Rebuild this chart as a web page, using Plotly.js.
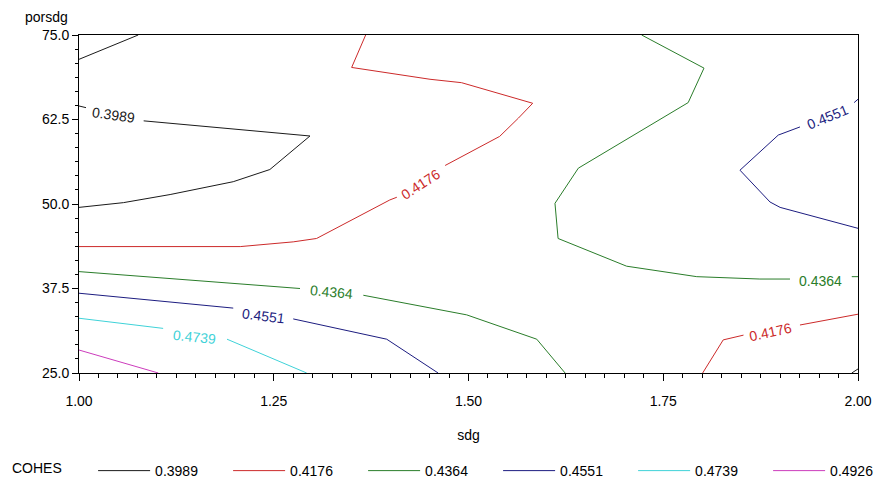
<!DOCTYPE html>
<html>
<head>
<meta charset="utf-8">
<script src="https://cdn.plot.ly/plotly-3.0.1.min.js"></script>
<style>html,body{margin:0;padding:0;background:#fff;}#chart{width:882px;height:481px;}</style>
</head>
<body>
<div id="chart"></div>
<script>
// Contour levels (COHES)
const levels = ['0.3989', '0.4176', '0.4364', '0.4551', '0.4739', '0.4926'];

// Contour paths (null = break in the line)
const x3989 = [1.0, 1.076, null, 1.0, 1.009, null, 1.083, 1.2965, 1.245, 1.198, 1.117, 1.057, 1.0, null, 1.992, 2.0];
const y3989 = [71.4, 75, null, 64.5, 64.25, null, 62.3, 60.06, 55.1, 53.3, 51.4, 50.2, 49.5, null, 25, 25.6];

const x4176 = [1.368, 1.350, 1.4506, 1.491, 1.5824, 1.564, 1.540, 1.470, null, 1.408, 1.399, 1.305, 1.275, 1.207, 1.0, null, 1.8006, 1.827, 1.853, null, 1.9255, 2.0];
const y4176 = [75, 70.2, 68.45, 67.95, 64.9, 62.7, 60.0, 55.7, null, 51.0, 50.6, 44.9, 44.4, 43.7, 43.7, null, 25, 29.9, 30.6, null, 32.1, 33.7];

const x4364 = [1.7223, 1.8023, 1.782, 1.641, 1.611, 1.615, 1.703, 1.793, 1.874, 1.9127, null, 1.992, 2.0, null, 1.0, 1.2837, null, 1.365, 1.4506, 1.4977, 1.5876, 1.624];
const y4364 = [75, 70.1, 65.0, 55.3, 50.1, 44.9, 40.8, 39.25, 38.9, 38.9, null, 39.25, 39.25, null, 40.0, 37.5, null, 36.5, 34.7, 33.6, 30.0, 25];

const x4551 = [1.0, 1.198, null, 1.275, 1.395, 1.461, null, 1.995, 2.0, null, 1.9255, 1.8977, 1.8485, 1.887, 1.90, 2.0];
const y4551 = [36.8, 34.6, null, 33.0, 30.0, 25, null, 65.0, 65.5, null, 61.4, 60.2, 55.0, 50.3, 49.5, 46.4];

const x4739 = [1.0, 1.108, null, 1.19, 1.2923];
const y4739 = [33.1, 31.6, null, 30.0, 25];

const x4926 = [1.0, 1.1018];
const y4926 = [28.4, 25];

// In-line contour labels
const labelText = ['0.3989', '0.4176', '0.4364', '0.4551', '0.4739', '0.4364', '0.4176', '0.4551'];
const labelLevel = [0, 1, 2, 3, 4, 2, 1, 3];
const labelX = [1.044, 1.439, 1.3239, 1.2372, 1.1489, 1.9523, 1.888, 1.9608];
const labelY = [63.17, 52.96, 36.91, 33.46, 30.37, 38.68, 31.11, 62.92];
const labelAngle = [8, -33, 5, 7, 6, 0, -12, -22];

// Axis ticks
const xTicks = [1.00, 1.25, 1.50, 1.75, 2.00];
const xTickText = ['1.00', '1.25', '1.50', '1.75', '2.00'];
const yTicks = [25.0, 37.5, 50.0, 62.5, 75.0];
const yTickText = ['25.0', '37.5', '50.0', '62.5', '75.0'];

const colors = ['#1a1a1a', '#cc2a2a', '#2a7d2a', '#1c1c80', '#3fd2d8', '#cc3cbc'];
const FONT = 'Liberation Sans, Arial, sans-serif';

const xs = [x3989, x4176, x4364, x4551, x4739, x4926];
const ys = [y3989, y4176, y4364, y4551, y4739, y4926];

const traces = levels.map((lv, i) => ({
  type: 'scatter', mode: 'lines', name: lv,
  x: xs[i], y: ys[i], connectgaps: false,
  line: {color: colors[i], width: 1},
  hoverinfo: 'skip'
}));

const annotations = labelText.map((t, i) => ({
  x: labelX[i], y: labelY[i], xref: 'x', yref: 'y',
  text: t, showarrow: false, textangle: labelAngle[i],
  font: {family: FONT, size: 14, color: colors[labelLevel[i]]},
  xanchor: 'center', yanchor: 'middle'
}));
annotations.push({
  xref: 'paper', yref: 'paper', x: -0.012, y: 1.053,
  xanchor: 'right', yanchor: 'middle', text: 'porsdg', showarrow: false,
  font: {family: FONT, size: 14, color: '#000'}
});

const layout = {
  width: 882, height: 481,
  margin: {l: 79, r: 24, t: 35, b: 108, autoexpand: false},
  paper_bgcolor: '#fff', plot_bgcolor: '#fff',
  font: {family: FONT, size: 14, color: '#000'},
  showlegend: true,
  xaxis: {
    range: [1, 2], tickvals: xTicks, ticktext: xTickText,
    showgrid: false, zeroline: false, showline: true, linecolor: '#000', linewidth: 1,
    mirror: true, ticks: 'outside', ticklen: 7, tickcolor: '#000', tickwidth: 1,
    ticklabelstandoff: 8,
    minor: {dtick: 0.025, ticks: 'outside', ticklen: 4, tickcolor: '#000', showgrid: false},
    title: {text: 'sdg', standoff: 22, font: {family: FONT, size: 14, color: '#000'}},
    fixedrange: true
  },
  yaxis: {
    range: [25, 75], tickvals: yTicks, ticktext: yTickText,
    showgrid: false, zeroline: false, showline: true, linecolor: '#000', linewidth: 1,
    mirror: true, ticks: 'outside', ticklen: 6, tickcolor: '#000', tickwidth: 1,
    minor: {tick0: 25, dtick: 12.5 / 6, ticks: 'outside', ticklen: 3, tickcolor: '#000', showgrid: false},
    fixedrange: true
  },
  legend: {
    orientation: 'h', x: -0.0886, xanchor: 'left', y: -0.29, yanchor: 'middle',
    title: {text: 'COHES&nbsp;&nbsp;&nbsp;&nbsp;&nbsp;&nbsp;', side: 'left', font: {family: FONT, size: 14}},
    entrywidth: 68, entrywidthmode: 'pixels', itemwidth: 52,
    font: {family: FONT, size: 14, color: '#000'},
    bgcolor: 'rgba(0,0,0,0)', borderwidth: 0
  },
  annotations: annotations
};

Plotly.newPlot('chart', traces, layout, {displayModeBar: false, staticPlot: true});
</script>
</body>
</html>
